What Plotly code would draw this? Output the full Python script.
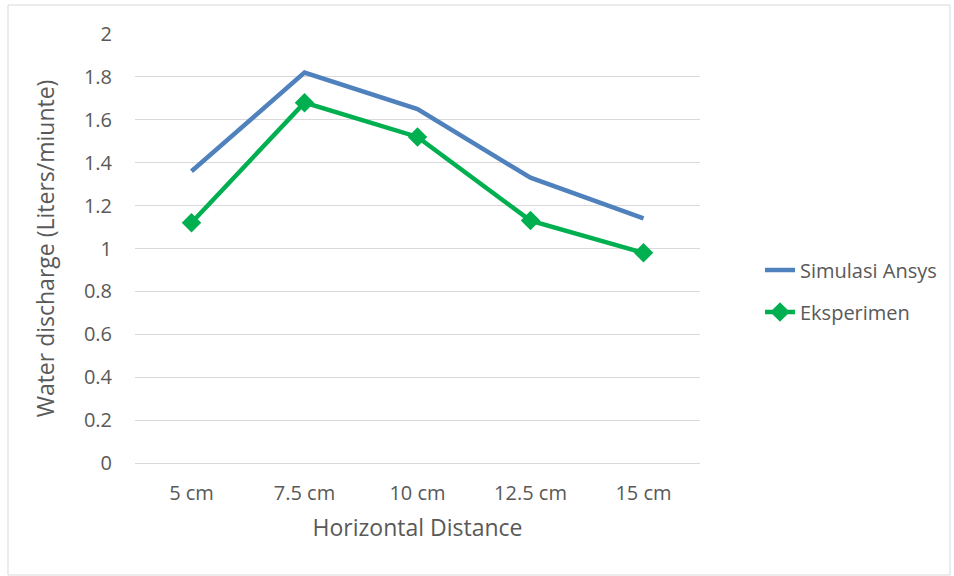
import plotly.graph_objects as go

categories = ["5 cm", "7.5 cm", "10 cm", "12.5 cm", "15 cm"]
simulasi_ansys = [1.36, 1.82, 1.65, 1.33, 1.14]
eksperimen = [1.12, 1.68, 1.52, 1.13, 0.98]
y_ticks = [0, 0.2, 0.4, 0.6, 0.8, 1, 1.2, 1.4, 1.6, 1.8, 2]

FONT = "Open Sans, Carlito, Calibri, sans-serif"
TEXT = "#595959"
GRID = "#d9d9d9"

fig = go.Figure()
fig.add_trace(go.Scatter(
    x=categories, y=simulasi_ansys, name="Simulasi Ansys",
    mode="lines", line=dict(color="#4F81BD", width=4.5),
    legendgroup="a",
))
fig.add_trace(go.Scatter(
    x=categories, y=eksperimen, name="Eksperimen",
    mode="lines+markers", line=dict(color="#00B050", width=4.5),
    marker=dict(symbol="diamond", size=15, color="#00B050"),
    legendgroup="b",
))

W, H = 954, 576
L, R, T, B = 135, 700, 34, 463

def px(x):
    return (x - L) / (R - L)

def py(y):
    return (B - y) / (B - T)

fig.update_layout(
    width=W, height=H,
    margin=dict(l=L, r=W - R, t=T, b=H - B),
    paper_bgcolor="white", plot_bgcolor="white",
    font=dict(family=FONT, size=20, color=TEXT),
    xaxis=dict(
        type="category", range=[-0.5, len(categories) - 0.5],
        showgrid=False, showline=False, zeroline=False,
        ticks="", ticklabelstandoff=16,
        title=dict(text="Horizontal Distance", font=dict(size=23, color=TEXT), standoff=14),
    ),
    yaxis=dict(
        range=[0, 2], tickvals=y_ticks, ticktext=[f"{v:g}" for v in y_ticks],
        showgrid=True, gridcolor=GRID, gridwidth=1.3,
        zeroline=True, zerolinecolor=GRID, zerolinewidth=1.3,
        showline=False, ticks="", ticklabelstandoff=22,
        title=dict(text="Water discharge (Liters/miunte)", font=dict(size=23, color=TEXT), standoff=22),
    ),
    legend=dict(
        x=px(760), y=py(291), xanchor="left", yanchor="middle",
        font=dict(size=20, color=TEXT), traceorder="grouped",
        tracegroupgap=13, bgcolor="rgba(0,0,0,0)",
    ),
    showlegend=True,
    shapes=[dict(
        type="rect", xref="paper", yref="paper",
        x0=px(8), x1=px(950), y0=py(575), y1=py(5),
        line=dict(color="#d9d9d9", width=1), fillcolor="rgba(0,0,0,0)", layer="below",
    )],
)

fig.write_html("out.html")
